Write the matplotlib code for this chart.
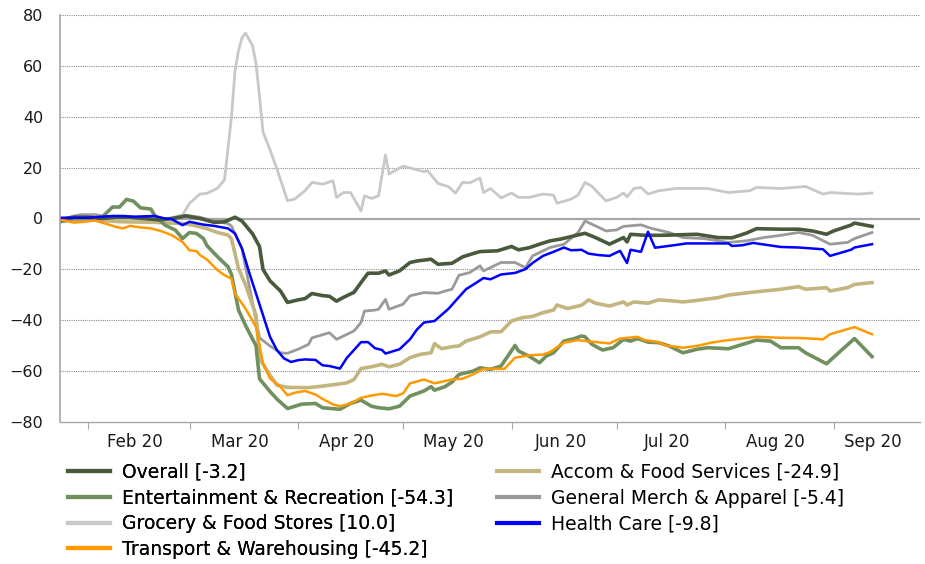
import numpy as np
import pandas as pd
import matplotlib
matplotlib.use("Agg")
import matplotlib.pyplot as plt
from matplotlib.lines import Line2D

# day offsets from 24 Jan 2020, value = % change
START = "2020-01-24"
AXIS_END = "2020-09-25T17:00"

overall_days = [0, 4, 8, 12, 16, 20, 24, 28, 32, 36, 40, 44, 47, 50, 52, 55, 57, 58, 60, 63, 65, 68, 70, 72, 75, 77,
                79, 81, 84, 86, 88, 91, 93, 94, 97, 100, 102, 106, 108, 112, 115, 118, 120, 125, 129, 131, 134, 137,
                140, 143, 147, 150, 153, 157, 159, 161, 162, 163, 167, 172, 182, 188, 192, 196, 199, 206, 211, 215,
                219, 221, 226, 227, 232]
overall_vals = [-0.5, 0.5, 0.5, 0, 0.5, 0.5, 0, -0.5, 0, 1, 0, -1.5, -1.3, 0.5, -1, -6, -11, -20, -24.5, -28.5, -33,
                -32, -31.5, -29.5, -30.3, -30.6, -32.5, -31, -29, -25.2, -21.5, -21.5, -20.6, -22.2, -20.6, -17.3,
                -16.7, -16, -18, -17.6, -15.1, -13.8, -13, -12.7, -11, -12.3, -11.5, -10.1, -8.8, -8.1, -6.8, -5.8,
                -7.5, -10.1, -8.8, -7.5, -9.2, -6.2, -6.6, -6.6, -6.2, -7.5, -7.6, -5.8, -4, -4.2, -4.2, -4.9, -6.2,
                -4.9, -2.6, -1.8, -3.1]

accom_days = [0, 8, 18, 27, 35, 38, 42, 45, 48, 49, 51, 53, 56, 57, 60, 62, 65, 71, 75, 79, 82, 84, 86, 89, 92, 94,
              97, 100, 103, 106, 107, 109, 112, 114, 116, 120, 123, 126, 129, 132, 135, 138, 141, 142, 145, 149, 151,
              153, 157, 161, 162, 164, 168, 171, 175, 178, 182, 188, 191, 197, 206, 211, 213, 219, 220, 225, 227, 232]
accom_vals = [-1, -0.5, -1.3, -1.5, -2, -2.6, -4, -5.5, -6.5, -8, -19.7, -26, -38, -55, -61.6, -65.5, -66.4, -66.5,
              -65.9, -65.2, -64.6, -63.3, -59, -58.3, -57.3, -58.3, -57.3, -54.7, -53.4, -52.8, -49.2, -51.2, -50.4,
              -50.1, -48.2, -46.5, -44.6, -44.5, -40.3, -39, -38.5, -37, -36, -34, -35.4, -34.1, -32, -33.3, -34.4,
              -32.8, -34, -32.8, -33.3, -32, -32.4, -32.8, -32.2, -31.1, -30.1, -29.1, -27.8, -26.8, -27.8, -27.2,
              -28.5, -27.2, -25.9, -25.2]

ent_days = [0, 4, 8, 12, 15, 17, 19, 21, 23, 26, 27, 30, 33, 35, 37, 39, 41, 42, 45, 48, 49, 51, 53, 56, 57, 60, 62,
            65, 69, 73, 75, 80, 83, 86, 89, 91, 94, 97, 100, 104, 106, 107, 110, 112, 114, 118, 120, 123, 126, 128,
            130, 131, 134, 137, 139, 141, 144, 147, 149, 150, 152, 155, 158, 161, 163, 165, 168, 171, 174, 178, 182,
            185, 191, 195, 199, 203, 206, 211, 213, 219, 223, 227, 232]
ent_vals = [-1.3, 0, 0, 0.5, 4.5, 4.5, 7.5, 6.8, 4.2, 3.7, 1.3, -2.6, -4.6, -7.9, -5.5, -5.9, -7.9, -10.7, -15, -19,
            -22, -36, -42, -50, -63, -68, -71, -74.7, -73, -72.7, -74.4, -75, -72.7, -71.4, -73.8, -74.4, -74.8,
            -73.8, -69.8, -67.8, -66.1, -67.5, -66.1, -64.3, -61.3, -60, -58.7, -59.3, -58, -54, -49.9, -52.1, -54.1,
            -56.7, -54, -52.8, -48.2, -47.2, -46.2, -46.5, -49.5, -51.7, -50.8, -47.5, -48.2, -47.2, -48.6, -48.8,
            -50.1, -52.8, -51.4, -50.8, -51.2, -49.5, -47.8, -48.2, -50.8, -50.8, -52.8, -57.1, -52.1, -47.2, -54.3]

merch_days = [0, 4, 6, 10, 14, 18, 24, 28, 32, 36, 40, 44, 48, 49, 52, 54, 57, 60, 63, 65, 68, 71, 72, 77, 79, 81,
              84, 86, 87, 90, 91, 93, 94, 98, 100, 104, 108, 110, 112, 114, 117, 120, 121, 126, 130, 133, 135, 140,
              144, 148, 150, 153, 156, 159, 161, 166, 169, 174, 178, 184, 191, 196, 201, 206, 211, 215, 220, 225,
              227, 232]
merch_vals = [-0.5, 1, 1.5, 1.5, 0.5, 0.5, 0, -0.5, 0, 1.3, 0.5, -1, -2, -3, -12, -26, -46.9, -50.1, -52.8, -53,
              -51.4, -49.5, -46.9, -44.9, -47.5, -46.2, -44.2, -40.9, -36.4, -36, -35.7, -31.8, -35.7, -33.7, -30.4,
              -29.1, -29.4, -28.5, -27.8, -22.3, -21.3, -18.6, -20.6, -17.3, -17.3, -19.3, -14.7, -11.4, -10.1, -5.5,
              -1, -2.9, -4.9, -4.5, -3.1, -2.5, -3.9, -5.5, -7.5, -7.9, -9.4, -8.8, -7.5, -6.6, -5.5, -6.6, -10.1,
              -9.4, -7.9, -5.5]

grocery_days = [0, 4, 8, 12, 16, 20, 24, 28, 31, 33, 35, 37, 40, 42, 45, 47, 48, 49, 50, 51, 52, 53, 55, 56, 57, 58,
                60, 62, 65, 67, 70, 72, 75, 78, 79, 81, 83, 86, 87, 89, 91, 93, 94, 98, 101, 104, 105, 108, 111, 113,
                115, 117, 120, 121, 123, 126, 129, 131, 134, 138, 141, 142, 146, 148, 150, 152, 156, 159, 161, 162,
                164, 166, 168, 171, 176, 185, 191, 197, 199, 206, 213, 218, 220, 228, 232]
grocery_vals = [-1, 0.5, 1, 0.5, 0, 0, -0.5, 0, 0, 0.7, 1.4, 6, 9.6, 9.9, 11.9, 15.2, 27.6, 40, 58, 66, 71, 72.9, 68,
                61, 48, 34, 27, 19.4, 7, 7.6, 10.9, 14.2, 13.5, 14.8, 8.3, 10.2, 10.2, 3, 8.9, 7.9, 8.9, 25, 17.5,
                20.6, 19.5, 18.4, 18.8, 13.8, 12.5, 10, 14.2, 14, 15.9, 10.2, 11.8, 8.1, 10, 8.3, 8.3, 9.6, 9.2, 6,
                7.6, 9.2, 14.2, 12.6, 6.9, 8.3, 10, 8.5, 11.8, 12.2, 9.6, 10.9, 11.8, 11.8, 10.2, 10.9, 12.2, 11.8,
                12.6, 9.6, 10.2, 9.6, 10]

health_days = [0, 4, 8, 12, 15, 18, 21, 27, 30, 32, 35, 37, 41, 44, 48, 50, 52, 54, 56, 58, 60, 62, 64, 66, 68, 70,
               73, 75, 77, 80, 82, 84, 86, 88, 90, 92, 93, 97, 100, 102, 104, 107, 111, 113, 116, 119, 121, 123, 126,
               130, 133, 135, 138, 141, 144, 146, 149, 151, 154, 157, 160, 162, 163, 166, 168, 170, 176, 179, 191,
               192, 195, 198, 206, 211, 218, 220, 224, 226, 227, 232]
health_vals = [0.3, 0.3, 0.3, 0.7, 1, 1, 0.7, 1, 0, -0.3, -2.6, -1.3, -2.4, -2.9, -3.9, -5.9, -11.8, -21, -29.5, -38,
               -46.5, -51.8, -55, -56.4, -55.7, -55.4, -55.6, -57.7, -58, -59, -54.7, -51.7, -48.6, -48.6, -51,
               -51.7, -53.1, -51.4, -47.5, -43.6, -40.9, -40.3, -35.5, -32.4, -27.8, -25.2, -23.4, -23.9, -22, -21.4,
               -19.9, -17.5, -14.7, -13.1, -11.4, -12.5, -12.3, -13.8, -14.4, -14.7, -12.7, -17.5, -12.3, -13.1,
               -5.2, -11.5, -10.4, -9.8, -9.8, -10.8, -10.5, -9.6, -11.2, -11.4, -12.1, -14.7, -13.1, -12.3, -11.4,
               -10.1]

transport_days = [0, 1, 4, 7, 10, 13, 16, 18, 20, 23, 26, 29, 32, 35, 37, 39, 40, 42, 45, 47, 49, 50, 53, 56, 58, 60,
                  63, 65, 67, 70, 73, 75, 78, 80, 83, 86, 89, 92, 96, 98, 100, 104, 107, 110, 112, 115, 118, 121, 127,
                  130, 134, 138, 140, 144, 148, 151, 157, 160, 165, 167, 171, 173, 178, 182, 186, 191, 199, 206, 212,
                  218, 220, 227, 232]
transport_vals = [-0.4, -0.7, -1.6, -1.3, -0.8, -2, -3.3, -3.9, -2.9, -3.5, -3.9, -5, -6.6, -9.2, -12.5, -12.8,
                  -14.4, -16.1, -20.3, -22.3, -23.6, -29.5, -35.4, -42.6, -57, -62.9, -66.2, -69.5, -68.5, -67.8,
                  -69.2, -70.9, -73.1, -73.8, -72.7, -70.5, -69.6, -68.9, -69.8, -68.8, -64.8, -63.3, -64.8, -63.9,
                  -63.3, -63, -61.3, -59.1, -59.1, -54.7, -53.8, -53.5, -52.5, -48.8, -47.8, -48.3, -49.1, -47.2,
                  -46.5, -47.8, -48.6, -49.9, -50.8, -50.1, -48.8, -47.8, -46.5, -46.9, -47, -47.5, -45.5, -42.7,
                  -45.5]

# label, days, values, colour, width (drawing order: back to front)
series = [
    ("Grocery & Food Stores [10.0]", grocery_days, grocery_vals, "#c8c8c8", 2.0),
    ("General Merch & Apparel [-5.4]", merch_days, merch_vals, "#9a9a9a", 2.0),
    ("Accom & Food Services [-24.9]", accom_days, accom_vals, "#c3b57f", 2.6),
    ("Entertainment & Recreation [-54.3]", ent_days, ent_vals, "#71905f", 2.6),
    ("Overall [-3.2]", overall_days, overall_vals, "#495a3c", 2.6),
    ("Transport & Warehousing [-45.2]", transport_days, transport_vals, "#ff9900", 1.8),
    ("Health Care [-9.8]", health_days, health_vals, "#0000ff", 1.8),
]
legend_left = ["Overall [-3.2]", "Entertainment & Recreation [-54.3]",
               "Grocery & Food Stores [10.0]", "Transport & Warehousing [-45.2]"]
legend_right = ["Accom & Food Services [-24.9]", "General Merch & Apparel [-5.4]", "Health Care [-9.8]"]

month_starts = pd.date_range("2020-02-01", "2020-09-01", freq="MS")
month_labels = ["Feb 20", "Mar 20", "Apr 20", "May 20", "Jun 20", "Jul 20", "Aug 20", "Sep 20"]


def to_dates(days):
    return pd.Timestamp(START) + pd.to_timedelta(np.array(days, dtype=float), unit="D")


def main():
    plt.rcParams["font.family"] = ["DejaVu Sans"]
    fig = plt.figure(figsize=(9.25, 5.64), dpi=100)
    ax = fig.add_axes([60 / 925, 1 - 422 / 564, 860 / 925, 407 / 564])

    handles = {}
    for label, days, vals, color, lw in series:
        ax.plot(to_dates(days), vals, color=color, lw=lw, solid_joinstyle="round")
        handles[label] = Line2D([], [], color=color, lw=3.0)

    ax.set_ylim(-80, 80)
    ax.set_yticks(np.arange(-80, 81, 20))
    ax.set_xlim(pd.Timestamp(START), pd.Timestamp(AXIS_END))

    # gridlines: dotted, zero line solid
    for y in range(-60, 81, 20):
        if y == 0:
            ax.axhline(0, color="#a6a6a6", lw=1.6, zorder=0.5)
        else:
            ax.axhline(y, color="#8c8c8c", lw=0.8, ls=(0, (1, 1)), zorder=0.5)

    # month boundary ticks, labels centred between them
    ax.set_xticks(month_starts)
    ax.xaxis.set_major_formatter(plt.NullFormatter())
    edges = list(month_starts) + [pd.Timestamp(AXIS_END)]
    mids = [a + (b - a) / 2 - pd.Timedelta(days=1) for a, b in zip(edges[:-1], edges[1:])]
    ax.set_xticks(mids, minor=True)
    ax.set_xticklabels(month_labels, minor=True)
    ax.tick_params(axis="x", which="major", length=5, color="#a6a6a6", direction="out")
    ax.tick_params(axis="x", which="minor", length=0, pad=8, labelsize=12, labelcolor="#1a1a1a")
    ax.tick_params(axis="y", length=0, pad=12, labelsize=11.5, labelcolor="#1a1a1a")

    for side in ("top", "right"):
        ax.spines[side].set_visible(False)
    ax.spines["left"].set_color("#a6a6a6")
    ax.spines["left"].set_linewidth(1.2)
    ax.spines["bottom"].set_color("#a6a6a6")
    ax.spines["bottom"].set_linewidth(1.0)

    legend_kw = dict(loc="upper left", frameon=False, fontsize=13.5, borderpad=0, borderaxespad=0,
                     handlelength=2.25, handletextpad=0.65, labelspacing=0.35)
    leg1 = fig.legend([handles[l] for l in legend_left], legend_left,
                      bbox_to_anchor=(68 / 925, 1 - 463 / 564), **legend_kw)
    fig.legend([handles[l] for l in legend_right], legend_right,
               bbox_to_anchor=(497 / 925, 1 - 463 / 564), **legend_kw)
    fig.add_artist(leg1)

    fig.savefig("out.png", dpi=100)


if __name__ == "__main__":
    main()
